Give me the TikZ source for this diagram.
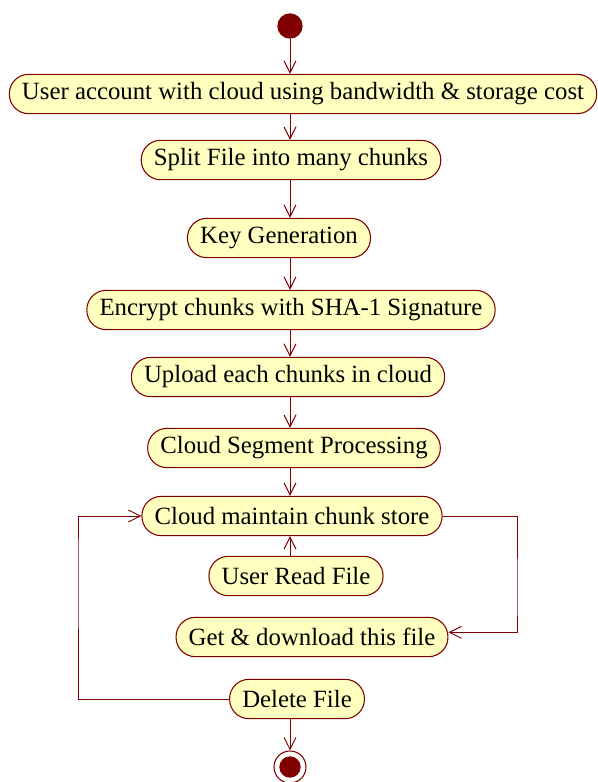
\documentclass[tikz,border=0pt]{standalone}
\usepackage{fontspec}
\setmainfont{Liberation Serif}
\usetikzlibrary{arrows.meta}
\definecolor{umlred}{RGB}{128,0,0}
\definecolor{umlfill}{RGB}{255,255,192}
\tikzset{
    activity/.style={draw=umlred, fill=umlfill, line width=0.8pt, rounded corners=14.5pt,
        minimum height=29.5pt, inner xsep=9.5pt, font=\fontsize{18.6}{20}\selectfont},
    flow/.style={draw=umlred, line width=0.7pt, -{Straight Barb[length=9pt,width=9pt]}},
    plain/.style={draw=umlred, line width=0.7pt}
}
\begin{document}
\begin{tikzpicture}[x=0.75pt, y=-0.75pt]
    \useasboundingbox (0,0) rectangle (597,782);
    \coordinate (spine) at (290,0);
    \node[circle, fill=umlred, minimum size=19pt, inner sep=0pt] at (290,26) (startNode) {};
    \node[activity] at (303,94) (accountNode) {User account with cloud using bandwidth \& storage cost};
    \node[activity] at (291,160) (splitNode) {Split File into many chunks};
    \node[activity] at (279,238) (keyNode) {Key Generation};
    \node[activity] at (291,310) (encryptNode) {Encrypt chunks with SHA-1 Signature};
    \node[activity] at (288,377) (uploadNode) {Upload each chunks in cloud};
    \node[activity] at (294,448) (segmentNode) {Cloud Segment Processing};
    \node[activity] at (292,516) (storeNode) {Cloud maintain chunk store};
    \node[activity] at (296,576) (readNode) {User Read File};
    \node[activity] at (312,637) (downloadNode) {Get \& download this file};
    \node[activity] at (297,699) (deleteNode) {Delete File};
    \node[circle, draw=umlred, fill=white, line width=0.8pt, minimum size=24pt, inner sep=0pt] at (290,767) (endNode) {};
    \fill[umlred] (endNode.center) circle (8pt);
    % main flow
    \draw[flow] (startNode) -- (accountNode.north -| spine);
    \draw[flow] (accountNode.south -| spine) -- (splitNode.north -| spine);
    \draw[flow] (splitNode.south -| spine) -- (keyNode.north -| spine);
    \draw[flow] (keyNode.south -| spine) -- (encryptNode.north -| spine);
    \draw[flow] (encryptNode.south -| spine) -- (uploadNode.north -| spine);
    \draw[flow] (uploadNode.south -| spine) -- (segmentNode.north -| spine);
    \draw[flow] (segmentNode.south -| spine) -- (storeNode.north -| spine);
    \draw[flow] (readNode.north -| spine) -- (storeNode.south -| spine);
    \draw[flow] (deleteNode.south -| spine) -- (endNode.north);
    % loops
    \draw[flow] (storeNode.east) -| (517,600) |- ([yshift=3.5pt]downloadNode.east);
    \draw[flow] (deleteNode.west) -| (78,560) |- (storeNode.west);
\end{tikzpicture}
\end{document}
